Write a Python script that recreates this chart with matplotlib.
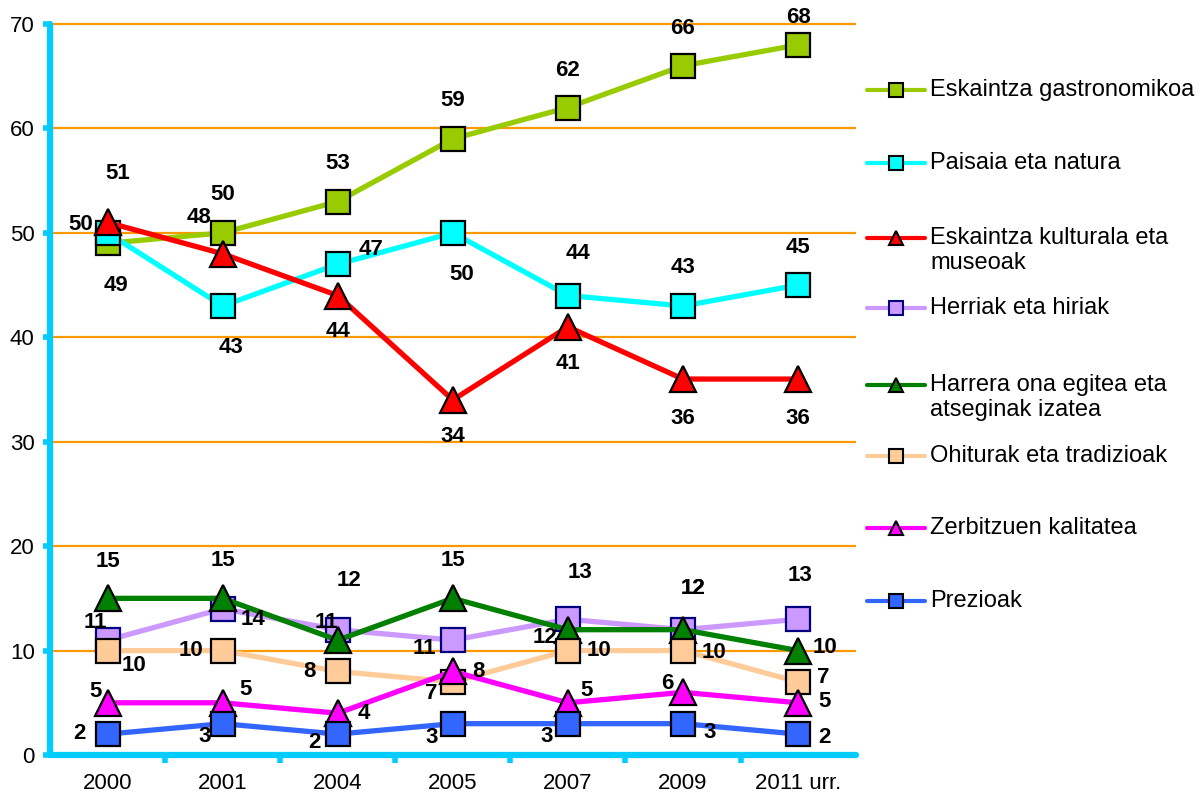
import matplotlib
matplotlib.use("Agg")
import matplotlib.pyplot as plt
from matplotlib.lines import Line2D

plt.rcParams['font.family'] = ['Liberation Sans', 'DejaVu Sans']

categories = ["2000", "2001", "2004", "2005", "2007", "2009", "2011 urr."]
series_names = [
    "Eskaintza gastronomikoa",
    "Paisaia eta natura",
    "Eskaintza kulturala eta\nmuseoak",
    "Herriak eta hiriak",
    "Harrera ona egitea eta\natseginak izatea",
    "Ohiturak eta tradizioak",
    "Zerbitzuen kalitatea",
    "Prezioak",
]
gastronomikoa = [49, 50, 53, 59, 62, 66, 68]
paisaia = [50, 43, 47, 50, 44, 43, 45]
kulturala = [51, 48, 44, 34, 41, 36, 36]
herriak = [11, 14, 12, 11, 13, 12, 13]
harrera = [15, 15, 11, 15, 12, 12, 10]
ohiturak = [10, 10, 8, 7, 10, 10, 7]
zerbitzuen = [5, 5, 4, 8, 5, 6, 5]
prezioak = [2, 3, 2, 3, 3, 3, 2]
yticks = [0, 10, 20, 30, 40, 50, 60, 70]

values = [gastronomikoa, paisaia, kulturala, herriak, harrera, ohiturak, zerbitzuen, prezioak]

# styles
colors = ['#99CC00', '#00FFFF', '#FF0000', '#CC99FF', '#008000', '#FFCC99', '#FF00FF', '#3366FF']
markers = ['s', 's', '^', 's', '^', 's', '^', 's']
edgecols = ['black', 'black', 'black', '#000080', 'black', 'black', 'black', 'black']

# label offsets in pixels (dx, dy)
offsets = [
    [(8, -42), (0, 38), (0, 38), (0, 38), (0, 37), (0, 37), (0, 27)],
    [(-27, 8), (8, -42), (33, 15), (9, -42), (10, 42), (0, 38), (0, 38)],
    [(10, 49), (-24, 36), (0, -36), (0, -37), (0, -37), (0, -39), (0, -39)],
    [(-12, 18), (30, -11), (11, 49), (-28, -8), (12, 47), (10, 41), (2, 44)],
    [(0, 37), (0, 38), (-11, 18), (0, 38), (-23, -8), (10, 41), (27, 3)],
    [(26, -15), (-32, 0), (-28, 0), (-22, -12), (31, 0), (31, -2), (25, 4)],
    [(-12, 11), (23, 13), (26, 0), (26, 0), (19, 12), (-16, 9), (26, 1)],
    [(-28, 1), (-18, -13), (-23, -8), (-21, -14), (-21, -13), (27, -9), (26, -3)],
]

W, H = 1202, 796
fig = plt.figure(figsize=(W / 100, H / 100), dpi=100)
ax = fig.add_axes([50 / W, 1 - 755 / H, (855.6 - 50) / W, (755 - 24) / H])
ax.set_xlim(-0.5, 6.5)
ax.set_ylim(0, 70)

x = list(range(len(categories)))

# gridlines
ax.hlines(yticks[1:], -0.5, 6.5, colors='#FF9900', linewidth=1.6, zorder=1, clip_on=False)

for i, (vals, c, m, ec) in enumerate(zip(values, colors, markers, edgecols)):
    ms = 17 if m == 's' else 19
    ax.plot(x, vals, color=c, linewidth=3.8, marker=m, markersize=ms,
            markerfacecolor=c, markeredgecolor=ec, markeredgewidth=1.6,
            zorder=3 + i, clip_on=False, solid_capstyle='round')

for i, vals in enumerate(values):
    for j, v in enumerate(vals):
        dx, dy = offsets[i][j]
        ax.annotate(str(v), (x[j], v), xytext=(dx, dy), textcoords='offset pixels',
                    ha='center', va='center', fontsize=16, fontweight='bold',
                    color='black', zorder=20, annotation_clip=False)

# spines
for s in ['top', 'right']:
    ax.spines[s].set_visible(False)
for s in ['left', 'bottom']:
    ax.spines[s].set_color('#00CCFF')
    ax.spines[s].set_linewidth(4.5)
    ax.spines[s].set_capstyle('round')
    ax.spines[s].set_zorder(2)

ax.set_yticks(yticks)
ax.set_yticklabels([str(t) for t in yticks])
ax.tick_params(axis='y', length=5, width=4, color='#00CCFF', pad=6, labelsize=16)
ax.set_xticks(x)
ax.set_xticklabels(categories)
ax.tick_params(axis='x', which='major', length=0, pad=13, labelsize=16)
ax.set_xticks([k - 0.5 for k in range(1, len(categories))], minor=True)
ax.tick_params(axis='x', which='minor', length=6, width=4, color='#00CCFF')

# legend (manual)
leg_y = [90, 163, 238, 308, 385, 456, 528, 601]
for name, c, m, ec, yp in zip(series_names, colors, markers, edgecols, leg_y):
    yf = 1 - yp / H
    fig.add_artist(Line2D([867 / W, 925 / W], [yf, yf], color=c, linewidth=3,
                          solid_capstyle='round', transform=fig.transFigure))
    fig.add_artist(Line2D([896 / W], [yf], marker=m, markersize=9.5, markerfacecolor=c,
                          markeredgecolor=ec, markeredgewidth=1.5, linestyle='none',
                          transform=fig.transFigure))
    if '\n' in name:
        fig.text(930 / W, 1 - (yp + 12.5) / H, name, ha='left', va='center',
                 fontsize=17, linespacing=1.2)
    else:
        fig.text(930 / W, yf, name, ha='left', va='center', fontsize=17)

fig.savefig('out.png', dpi=100)
